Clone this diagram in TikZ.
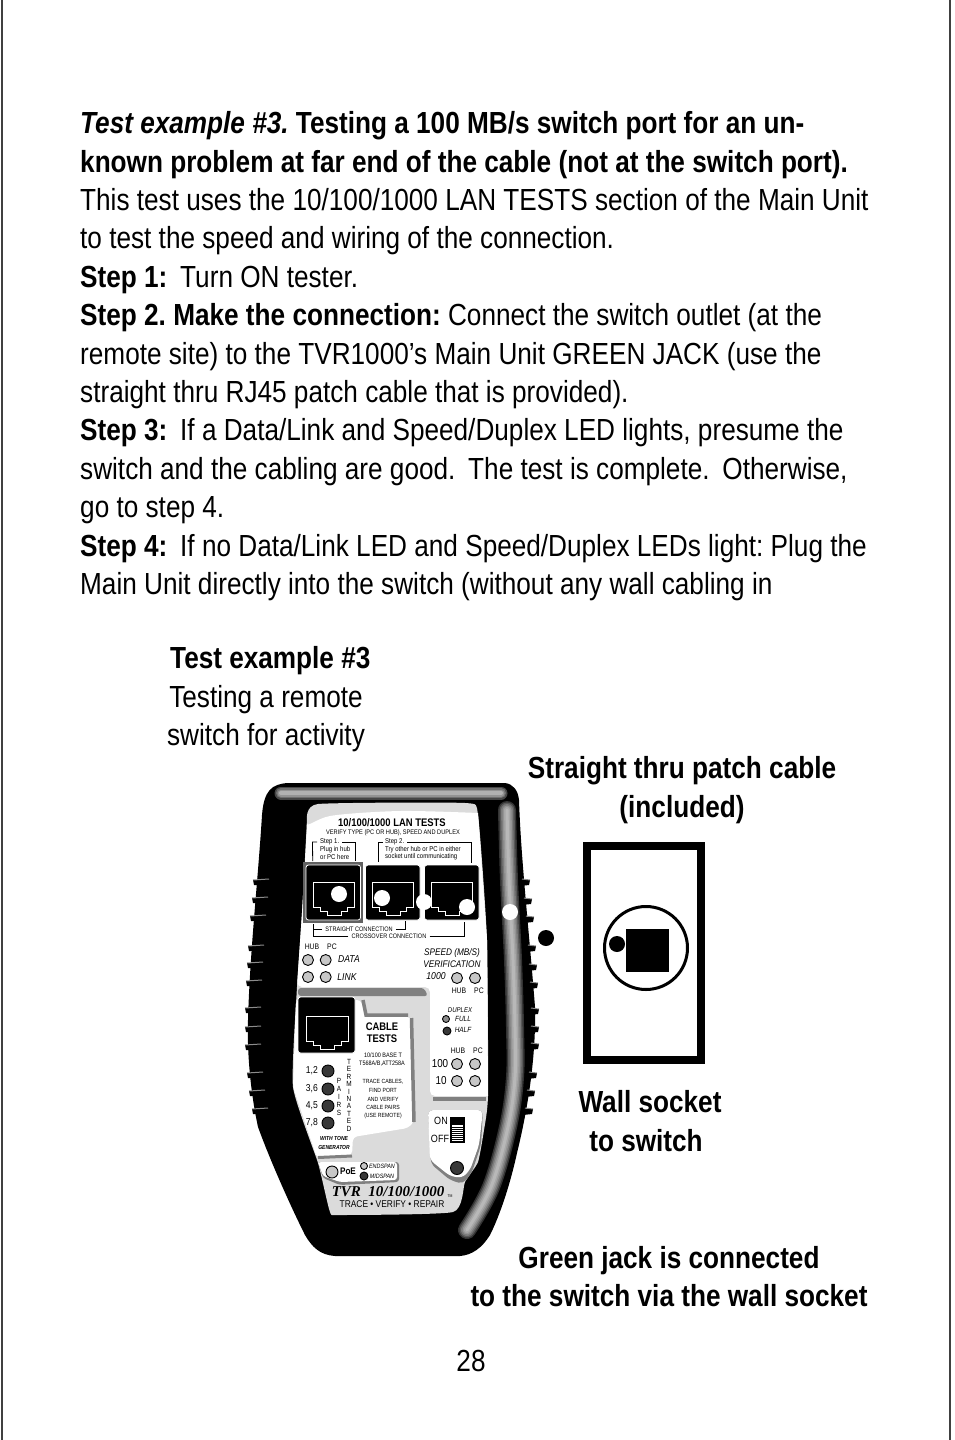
\documentclass[tikz,border=0pt]{standalone}
\usepackage{fontspec}
\setmainfont[FakeStretch=0.858]{Liberation Sans}
\newfontfamily\tvrfont{Liberation Serif}
\definecolor{paneloff}{gray}{0.86}
\definecolor{shadowgray}{gray}{0.5}
\newcommand{\sz}[1]{\fontsize{#1}{#1}\selectfont}
\newcommand{\wgap}{\ \hspace{5.5pt}}
\frenchspacing
\tikzset{
  line/.style={anchor=base west, inner sep=0pt, font=\sz{30.5}},
  cline/.style={anchor=base, inner sep=0pt, font=\sz{30.5}},
  tiny/.style={inner sep=0pt, font=\sz{#1}},
  tiny/.default=6.5,
  ledon/.style={circle, draw=black, line width=0.9pt, fill=black!22, minimum size=#1, inner sep=0pt},
  ledon/.default=11pt,
  leddark/.style={circle, draw=black, line width=0.9pt, fill=black!78, minimum size=#1, inner sep=0pt},
  leddark/.default=12pt,
  jackbox/.style={draw=white, line width=0.8pt, fill=black, rounded corners=2.5pt},
  bracket/.style={draw=black, line width=0.8pt},
  whitedot/.style={circle, fill=white, minimum size=16pt, inner sep=0pt},
  blackdot/.style={circle, fill=black, minimum size=16pt, inner sep=0pt},
  ribline/.style={draw=black!45, line width=1pt}
}
\begin{document}
\begin{tikzpicture}[x=1pt,y=-1pt]
  \useasboundingbox (0,0) rectangle (954,1440);
  \fill[white] (0,0) rectangle (954,1440);
  % page edges
  \draw[line width=1.3pt, black!75] (2,0) -- (2,1440);
  \draw[line width=1.3pt, black!75] (950,0) -- (950,1440);
  % page text
  \node[line] (t1) at (80,133) {\bfseries\itshape Test example \#3. \upshape Testing a 100 MB/s switch port for an un-};
  \node[line] (t2) at (80,172) {\bfseries known problem at far end of the cable (not at the switch port).};
  \node[line] (t3) at (80,210) {This test uses the 10/100/1000 LAN TESTS section of the Main Unit};
  \node[line] (t4) at (80,248) {to test the speed and wiring of the connection.};
  \node[line] (t5) at (80,287) {\textbf{Step 1:}\wgap Turn ON tester.};
  \node[line] (t6) at (80,325) {\textbf{Step 2. Make the connection:} Connect the switch outlet (at the};
  \node[line] (t7) at (80,364) {remote site) to the TVR1000’s Main Unit GREEN JACK (use the};
  \node[line] (t8) at (80,402) {straight thru RJ45 patch cable that is provided).};
  \node[line] (t9) at (80,440) {\textbf{Step 3:}\wgap If a Data/Link and Speed/Duplex LED lights, presume the};
  \node[line] (t10) at (80,479) {switch and the cabling are good.\wgap The test is complete.\wgap Otherwise,};
  \node[line] (t11) at (80,517) {go to step 4.};
  \node[line] (t12) at (80,556) {\textbf{Step 4:}\wgap If no Data/Link LED and Speed/Duplex LEDs light: Plug the};
  \node[line] (t13) at (80,594) {Main Unit directly into the switch (without any wall cabling in};
  \node[line] (ex1) at (170,668) {\bfseries Test example \#3};
  \node[cline] (ex2) at (266,707) {Testing a remote};
  \node[cline] (ex3) at (266,745) {switch for activity};
  \node[cline] (patch1) at (682,778) {\bfseries Straight thru patch cable};
  \node[cline] (patch2) at (682,817) {\bfseries (included)};
  \node[cline] (wall1) at (650,1112) {\bfseries Wall socket};
  \node[cline] (wall2) at (646,1151) {\bfseries to switch};
  \node[cline] (green1) at (669,1268) {\bfseries Green jack is connected};
  \node[cline] (green2) at (669,1306) {\bfseries to the switch via the wall socket};
  \node[cline] (page) at (471,1371) {28};
  % wall socket
  \draw[line width=8pt] (587,846) rectangle (701,1060);
  \draw[line width=3pt] (646,948) circle (41.5);
  \fill (626,929) rectangle (669,972);
  \node[blackdot] (walldot) at (617,944) {};
  % body of the tester
  \fill[black] (288,783) -- (505,783) .. controls (513,784) and (518,790) .. (519,800) .. controls (521,860) and (529,930) .. (535,1007) .. controls (536,1050) and (530,1100) .. (517,1153) .. controls (510,1185) and (500,1215) .. (490,1235) .. controls (482,1248) and (472,1255) .. (460,1256) -- (335,1256) .. controls (320,1255) and (312,1247) .. (305,1235) .. controls (290,1205) and (270,1160) .. (258,1127) .. controls (250,1090) and (247,1050) .. (248,1020) .. controls (250,950) and (258,880) .. (262,815) .. controls (264,790) and (272,784) .. (288,783) -- cycle;
  % ribs
  \foreach \y/\xa in {880/253, 898/252, 916/250, 946/248, 963/247, 981/246, 1008/245, 1027/245, 1045/245, 1073/247, 1091/249, 1109/252} {
    \fill (\xa,\y) -- (\xa+8,\y) -- (\xa+8,\y+5) -- (\xa+1,\y+5) -- cycle;
    \draw[ribline] (\xa,\y) -- (\xa+16,\y-1);
  }
  \foreach \y/\xa in {880/530, 899/532, 917/534, 946/536, 965/537, 983/538, 1009/539, 1027/539, 1044/539, 1073/537, 1091/535, 1109/533} {
    \fill (\xa,\y) -- (\xa-10,\y) -- (\xa-10,\y+6) -- (\xa-1,\y+5) -- cycle;
    \draw[ribline] (\xa,\y) -- (\xa-8,\y-1);
  }
  % highlights on the body
  \foreach \w/\g in {13/72, 10/56, 7/42, 4/30}
    \draw[line width=\w pt, line cap=round, black!\g] (281,793) -- (501,793);
  \foreach \w/\g in {18/80, 15/65, 12/52, 9/42, 6/34, 3/28}
    \draw[line width=\w pt, line cap=round, black!\g] plot[smooth, tension=0.6] coordinates {(507,810) (509,880) (513,960) (515,1027) (515,1077) (508,1127) (491,1187) (467,1230)};
  % panel
  \fill[paneloff] plot[smooth, tension=0.3] coordinates {(307,820) (318,804) (465,803) (478,815) (487,940) (488,1095) (484,1130) (478,1162) (465,1182) (453,1212) (340,1215) (330,1212) (318,1163) (293,1087) (297,987) (302,913) (307,820)};
  \fill[white] plot[smooth, tension=0.5] coordinates {(307,828) (330,816) (400,811) (478,813)} -- (487,940) -- (488,1096) [rounded corners=5pt] -- (430,1096) -- (430,987) -- (297,987) -- (302,913) -- cycle;
  \fill[shadowgray, rounded corners=3pt] (298,988) -- (424,988) -- (428,996) -- (298,996) -- cycle;
  \draw[shadowgray, line width=4pt] (433,1098.5) -- (486,1098.5);
  % cable tests area
  \fill[white, rounded corners=4pt] (296,1000) -- (361,1000) -- (365,1017) -- (411,1017) -- (414,1122) -- (408,1128) -- (353,1137) -- (352,1155) -- (317,1158) -- (293,1087) -- cycle;
  \draw[shadowgray, line width=3.5pt] (363,1000) -- (366,1015) -- (408,1015);
  \draw[shadowgray, line width=3.5pt] (411.5,1018) -- (414,1122);
  \draw[shadowgray, line width=3pt] (318,1157.5) -- (352,1156);
  % poe area
  \fill[shadowgray, rounded corners=3pt] (318,1162) -- (399,1162) -- (399,1182) -- (340,1185) -- (323,1178) -- cycle;
  \fill[white, rounded corners=3pt] (318,1162) -- (397,1162) -- (397,1180) -- (340,1182) -- (323,1176) -- cycle;
  % on off area
  \fill[shadowgray, rounded corners=5pt] (428,1110) -- (483,1110) -- (481,1145) -- (472,1172) -- (463,1184) -- (450,1180) -- (431,1164) -- cycle;
  \fill[white, rounded corners=5pt] (428,1110) -- (483,1110) -- (479,1145) -- (470,1170) -- (462,1178) -- (450,1176) -- (430,1160) -- cycle;
  % lan jacks
  \fill[black!62] (303,862) rectangle (363,923);
  \foreach \x in {306,365.5,424.5} {
    \draw[jackbox] (\x,865) rectangle ++(54.5,55);
    \draw[white, line width=0.8pt, xshift=\x pt] (7,882) -- (48,882) -- (48,907) -- (41,907) -- (41,911) -- (35,911) -- (35,915) -- (21,915) -- (21,911) -- (14,911) -- (14,907) -- (7,907) -- cycle;
  }
  % cable jack
  \draw[jackbox] (298,997) rectangle (355,1053);
  \draw[white, line width=0.8pt] (306,1016) -- (348,1016) -- (348,1041) -- (341,1041) -- (341,1045) -- (334,1045) -- (334,1049) -- (320,1049) -- (320,1045) -- (313,1045) -- (313,1041) -- (306,1041) -- cycle;
  % dots along the jacks
  \node[whitedot] (dotA) at (339,894) {};
  \node[whitedot] (dotB) at (382,898) {};
  \node[whitedot] (dotC) at (424,902) {};
  \node[whitedot] (dotD) at (467,907) {};
  \node[whitedot] (dotE) at (510,912) {};
  \node[blackdot] (dotF) at (546,938) {};
  % lan tests labels
  \node[tiny=11, font=\sz{11}\bfseries] (lan) at (392,823) {10/100/1000 LAN TESTS};
  \node[tiny=6.6] (verify) at (393,833) {VERIFY TYPE (PC OR HUB), SPEED AND DUPLEX};
  \node[tiny=7, anchor=west] (stepa) at (320,842) {Step 1.};
  \node[tiny=7, anchor=west] (stepb) at (320,850) {Plug in hub};
  \node[tiny=7, anchor=west] (stepc) at (320,857) {or PC here};
  \node[tiny=7, anchor=west] (stepd) at (385,842) {Step 2.};
  \node[tiny=7, anchor=west] (stepe) at (385,850) {Try other hub or PC in either};
  \node[tiny=7, anchor=west] (stepf) at (385,857) {socket until communicating};
  \draw[bracket] (stepa.west) ++(-3,0) -- ++(-4.5,0) -- (312.7,861);
  \draw[bracket] (stepa.east) ++(3,0) -- (355,842) -- (355,861);
  \draw[bracket] (stepd.west) ++(-2,0) -- (378,842) -- (378,862);
  \draw[bracket] (stepd.east) ++(3,0) -- (471,842) -- (471,863);
  \node[tiny=6.5] (straight) at (359,929) {STRAIGHT CONNECTION};
  \node[tiny=6.5] (cross) at (389,936) {CROSSOVER CONNECTION};
  \draw[bracket] (straight.west) ++(-3,0) -- (313,929);
  \draw[bracket] (straight.east) ++(3,0) -- (405,929) -- (405,921);
  \draw[bracket] (cross.west) ++(-3,0) -- (313,936) -- (313,924);
  \draw[bracket] (cross.east) ++(3,0) -- (464,936) -- (464,922);
  % data and link
  \node[tiny=8] (hubA) at (312,947) {HUB};
  \node[tiny=8] (pcA) at (332,947) {PC};
  \node[ledon] (ledA) at (308,960) {};
  \node[ledon] (ledB) at (325.7,960) {};
  \node[ledon] (ledC) at (308,977) {};
  \node[ledon] (ledD) at (325.7,977) {};
  \node[tiny=10, font=\sz{10}\itshape] (data) at (349,959) {DATA};
  \node[tiny=10, font=\sz{10}\itshape] (link) at (347,977) {LINK};
  % speed
  \node[tiny=9.6, font=\sz{9.6}\itshape] (speed) at (452,953) {SPEED (MB/S)};
  \node[tiny=9.6, font=\sz{9.6}\itshape] (verif) at (452,964) {VERIFICATION};
  \node[tiny=10, font=\sz{10}\itshape] (gig) at (436,976) {1000};
  \node[ledon] (ledE) at (457,978) {};
  \node[ledon] (ledF) at (475,978) {};
  \node[tiny=8] (hubB) at (459,991) {HUB};
  \node[tiny=8] (pcB) at (479,991) {PC};
  \node[tiny=7, font=\sz{7}\itshape] (duplex) at (460,1010) {DUPLEX};
  \node[leddark=7pt, fill=black!45] (ledG) at (446,1019) {};
  \node[tiny=7.5, font=\sz{7.5}\itshape] (full) at (463,1019) {FULL};
  \node[leddark=8pt] (ledH) at (447,1031) {};
  \node[tiny=7.5, font=\sz{7.5}\itshape] (half) at (463,1030) {HALF};
  \node[tiny=8] (hubC) at (458,1051) {HUB};
  \node[tiny=8] (pcC) at (478,1051) {PC};
  \node[tiny=11.5] (hund) at (440,1064) {100};
  \node[ledon] (ledI) at (457,1064) {};
  \node[ledon] (ledJ) at (475,1064) {};
  \node[tiny=11.5] (ten) at (441,1081) {10};
  \node[ledon] (ledK) at (457,1081) {};
  \node[ledon] (ledL) at (475,1081) {};
  % cable tests labels
  \node[tiny=11, font=\sz{11}\bfseries] (cablea) at (382,1027) {CABLE};
  \node[tiny=11, font=\sz{11}\bfseries] (cableb) at (382,1039) {TESTS};
  \node[tiny=6.4] (base) at (383,1055) {10/100 BASE T};
  \node[tiny=6.4] (tia) at (382,1064) {T568A/B,ATT258A};
  \node[tiny=6] (trace) at (383,1082) {TRACE CABLES,};
  \node[tiny=6] (find) at (383,1090) {FIND PORT};
  \node[tiny=6] (andv) at (383,1099) {AND VERIFY};
  \node[tiny=6] (pairs) at (383,1107) {CABLE PAIRS};
  \node[tiny=6] (remote) at (383,1116) {(USE REMOTE)};
  \foreach \y/\lab/\nm in {1071/{1,2}/a, 1089/{3,6}/b, 1106/{4,5}/c, 1123/{7,8}/d} {
    \node[leddark] (pair\nm) at (328,\y) {};
    \node[tiny=10, anchor=east] (lab\nm) at (318,\y) {\lab};
  }
  \foreach \c [count=\n] in {P,A,I,R,S}
    \node[tiny=7.5] (p\n) at (339,1073+7.9*\n) {\c};
  \foreach \c [count=\n] in {T,E,R,M,I,N,A,T,E,D}
    \node[tiny=7.5] (e\n) at (349,1054.5+7.4*\n) {\c};
  \node[tiny=5.8, font=\sz{5.8}\bfseries\itshape] (tone) at (334,1138) {WITH TONE};
  \node[tiny=5.8, font=\sz{5.8}\bfseries\itshape] (gen) at (334,1147) {GENERATOR};
  % poe
  \node[ledon=12pt] (ledP) at (332,1172) {};
  \node[tiny=9.5, font=\sz{9.5}\bfseries] (poe) at (348,1171) {PoE};
  \node[ledon=7pt] (ledQ) at (364,1166) {};
  \node[leddark=8pt] (ledR) at (364,1176) {};
  \node[tiny=6.3, font=\sz{6.3}\itshape] (endspan) at (382,1166) {ENDSPAN};
  \node[tiny=6.3, font=\sz{6.3}\itshape] (midspan) at (382,1176) {MIDSPAN};
  % on off switch
  \node[tiny=10.5] (on) at (441,1121) {ON};
  \node[tiny=10.5] (off) at (440,1139) {OFF};
  \fill (450,1117) rectangle (465,1143);
  \fill[white] (452,1125) rectangle (463,1141);
  \foreach \y in {1127,1129,...,1139}
    \draw[line width=0.8pt] (452,\y) -- (463,\y);
  \node[leddark=13pt] (ledS) at (457,1168) {};
  % name plate
  \node[tiny=15, font=\tvrfont\sz{15}\bfseries\itshape] (tvr) at (388,1192) {TVR\ \ 10/100/1000};
  \node[tiny=4] (tm) at (450,1196) {TM};
  \node[tiny=9.8] (slogan) at (392,1204) {TRACE • VERIFY • REPAIR};
\end{tikzpicture}
\end{document}
